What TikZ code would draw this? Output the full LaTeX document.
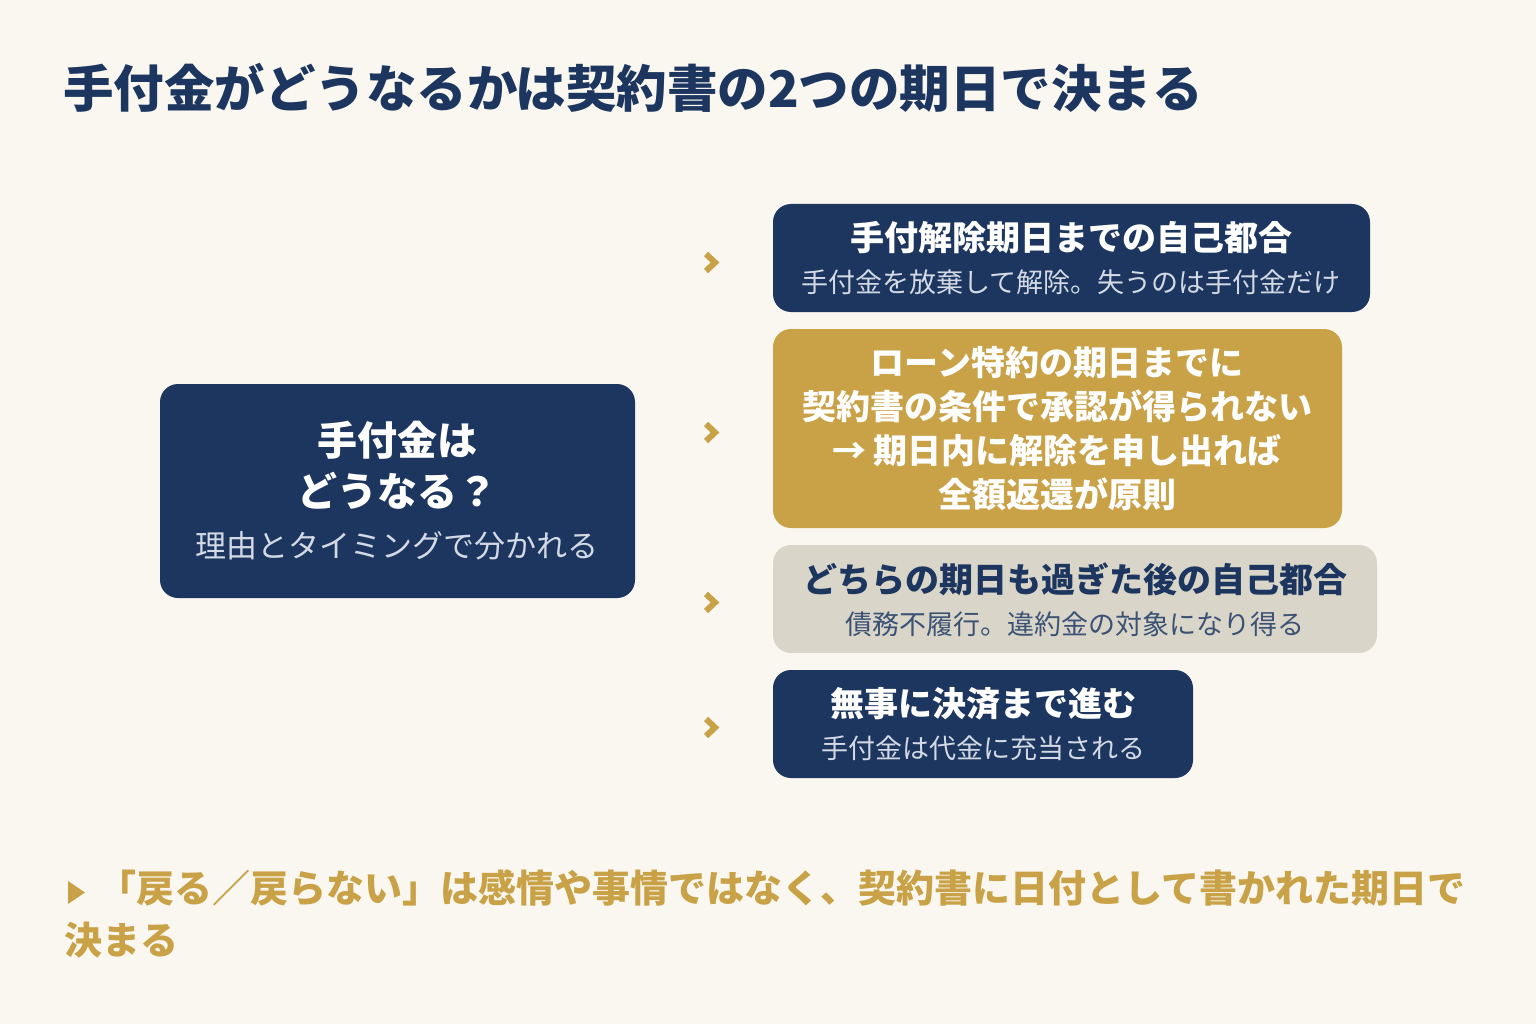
\documentclass[tikz,border=0pt]{standalone}
\usepackage{fontspec}
\setmainfont{Noto Sans CJK JP}
\definecolor{bg}{HTML}{FAF7F0}
\definecolor{navy}{HTML}{1C365F}
\definecolor{gold}{HTML}{C9A248}
\definecolor{stone}{HTML}{D9D5C9}
\definecolor{pale}{HTML}{D3DAE5}
\definecolor{slate}{HTML}{3B5275}
\begin{document}
\begin{tikzpicture}[x=1pt,y=-1pt,
  card/.style={rounded corners=18pt, anchor=north west, inner sep=0pt, outer sep=0pt},
  headtxt/.style={inner sep=0pt, font=\bfseries\fontsize{34}{40}\selectfont},
  subtxt/.style={inner sep=0pt, font=\fontsize{27}{31}\selectfont},
  chev/.style={draw=gold, line width=6pt, miter limit=10},
  notetxt/.style={inner sep=0pt, anchor=west, text=gold, font=\bfseries\fontsize{38}{44}\selectfont}]
\fill[bg] (0,0) rectangle (1536,1024);
\useasboundingbox (0,0) rectangle (1536,1024);

% title
\node[inner sep=0pt, anchor=west, text=navy, font=\bfseries\fontsize{50.5}{58}\selectfont] (title) at (63,88) {手付金がどうなるかは契約書の2つの期日で決まる};

% left card
\node[card, fill=navy, minimum width=475pt, minimum height=214pt] (q) at (160,384) {};
\node[inner sep=0pt, text=white, font=\bfseries\fontsize{40}{48}\selectfont] (q1) at (397,440) {手付金は};
\node[inner sep=0pt, text=white, font=\bfseries\fontsize{40}{48}\selectfont] (q2) at (397,491) {どうなる？};
\node[inner sep=0pt, text=pale, font=\fontsize{31}{36}\selectfont] (q3) at (397,546) {理由とタイミングで分かれる};

% box 1
\node[card, fill=navy, minimum width=597pt, minimum height=108pt] (b1) at (773,204) {};
\node[headtxt, text=white] (b1t) at (1071,238) {手付解除期日までの自己都合};
\node[subtxt, text=pale] (b1s) at (1071,282) {手付金を放棄して解除。失うのは手付金だけ};

% box 2
\node[card, fill=gold, minimum width=569pt, minimum height=199pt] (b2) at (773,329) {};
\node[inner sep=0pt, align=center, text=white, font=\bfseries\fontsize{34}{44}\selectfont] (b2t) at (1057,429) {ローン特約の期日までに\\契約書の条件で承認が得られない\\→ 期日内に解除を申し出れば\\全額返還が原則};

% box 3
\node[card, fill=stone, minimum width=604pt, minimum height=108pt] (b3) at (773,545) {};
\node[headtxt, text=navy] (b3t) at (1075,579) {どちらの期日も過ぎた後の自己都合};
\node[subtxt, text=slate] (b3s) at (1075,624) {債務不履行。違約金の対象になり得る};

% box 4
\node[card, fill=navy, minimum width=420pt, minimum height=108pt] (b4) at (773,670) {};
\node[headtxt, text=white] (b4t) at (983,704) {無事に決済まで進む};
\node[subtxt, text=pale] (b4s) at (983,748) {手付金は代金に充当される};

% chevrons
\draw[chev] (706,254) -- (715,262.5) -- (706,271);
\draw[chev] (706,424) -- (715,432.5) -- (706,441);
\draw[chev] (706,594) -- (715,602.5) -- (706,611);
\draw[chev] (706,719) -- (715,727.5) -- (706,736);

% note
\fill[gold] (68,881) -- (85,892.5) -- (68,904) -- cycle;
\node[notetxt] (n1) at (98,888) {「戻る／戻らない」は感情や事情ではなく、契約書に日付として書かれた期日で};
\node[notetxt] (n2) at (64,940) {決まる};
\end{tikzpicture}
\end{document}
